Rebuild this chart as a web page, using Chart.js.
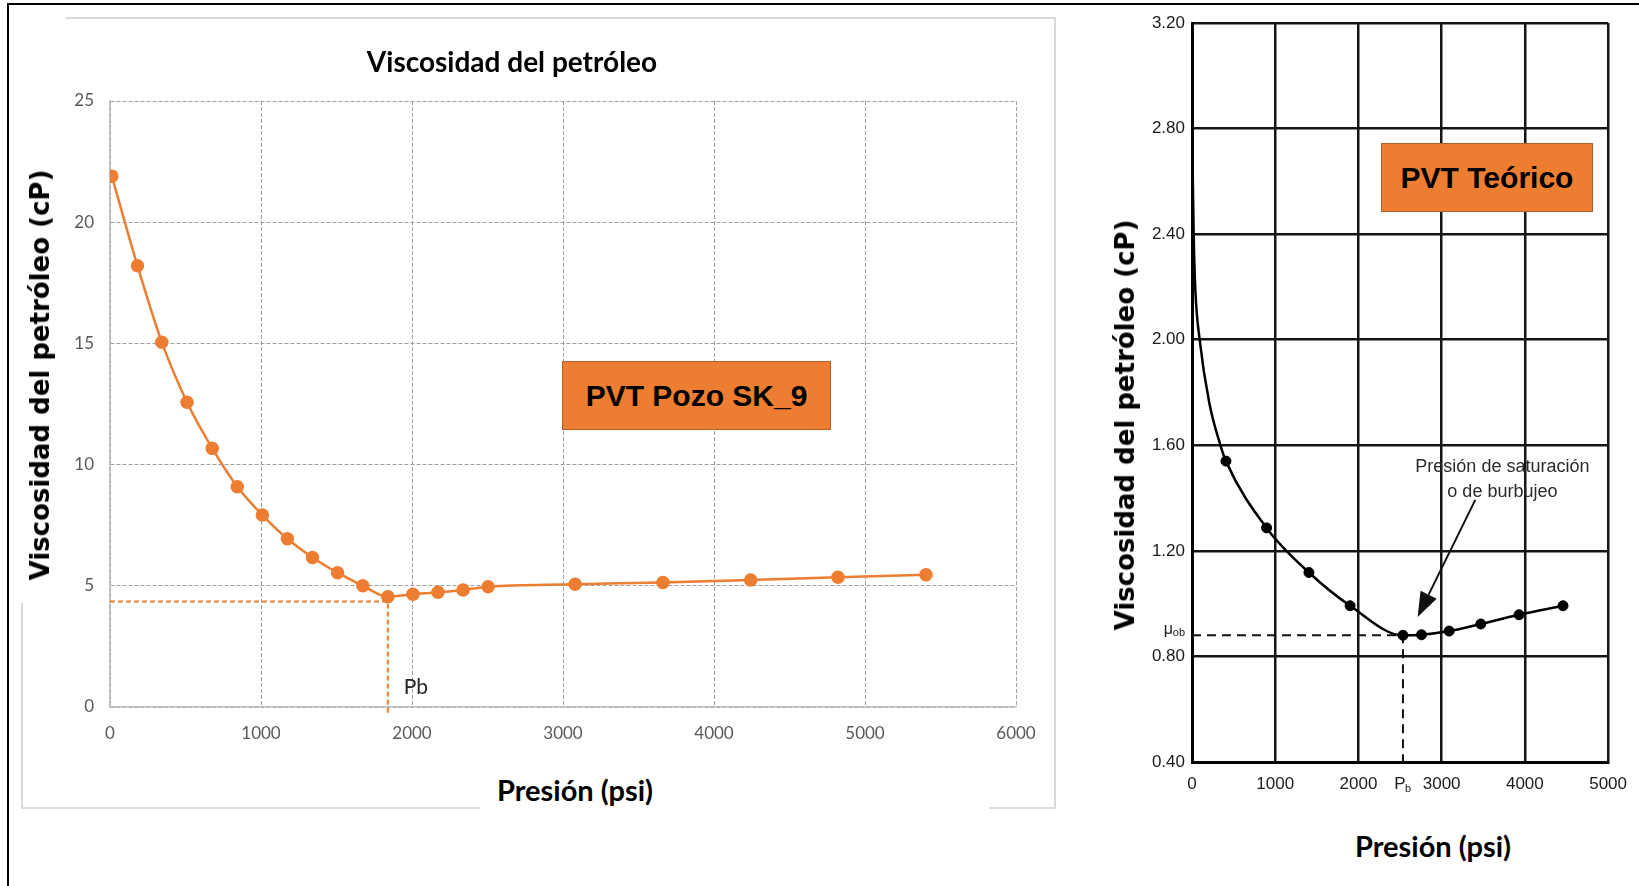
<!DOCTYPE html>
<html>
<head>
<meta charset="utf-8">
<script src="https://cdn.jsdelivr.net/npm/chart.js@4.4.1/dist/chart.umd.min.js"></script>
<style>
  html, body { margin: 0; padding: 0; background: #fff; }
  #lienzo { position: relative; width: 1639px; height: 886px; overflow: hidden; background: #fff; }
  .abs { position: absolute; }
  .gris { position: absolute; background: #D9D9D9; }
  .caja { position: absolute; box-sizing: border-box; background: #ED7D31; border: 1.5px solid #B5602A;
          display: flex; align-items: center; justify-content: center;
          font: bold 30px "Liberation Sans", Arial, sans-serif; color: #000; }
  .ytit { position: absolute; white-space: nowrap; font: bold 26px "DejaVu Sans", Verdana, sans-serif; color: #000;
          transform: translate(-50%, -50%) rotate(-90deg); }
  .xtit { position: absolute; white-space: nowrap; font: bold 29px Lato, "Open Sans", sans-serif; color: #000;
          transform: translate(-50%, -50%); }
</style>
</head>
<body>
<div id="lienzo">
  <!-- marco negro -->
  <div class="abs" style="left:7px;top:3px;width:1632px;height:2px;background:#000"></div>
  <div class="abs" style="left:7px;top:3px;width:2px;height:883px;background:#000"></div>

  <!-- marco gris del grafico de Excel -->
  <div class="gris" style="left:66px;top:17px;width:990px;height:1.5px"></div>
  <div class="gris" style="left:1054px;top:17px;width:1.5px;height:792px"></div>
  <div class="gris" style="left:21px;top:603px;width:1.5px;height:206px"></div>
  <div class="gris" style="left:21px;top:807px;width:459px;height:1.5px"></div>
  <div class="gris" style="left:989px;top:807px;width:67px;height:1.5px"></div>

  <div class="abs" style="left:0;top:0"><canvas id="izq" width="1060" height="760"></canvas></div>
  <div class="abs" style="left:1100px;top:0"><canvas id="der" width="539" height="800"></canvas></div>

  <div class="xtit" style="left:512px;top:61px;font-size:28px">Viscosidad del petróleo</div>
  <div class="ytit" style="left:40px;top:375px">Viscosidad del petróleo (cP)</div>
  <div class="ytit" style="left:1125px;top:425px">Viscosidad del petróleo (cP)</div>
  <div class="xtit" style="left:575px;top:789px">Presión (psi)</div>
  <div class="xtit" style="left:1433px;top:845px">Presión (psi)</div>

  <div class="caja" style="left:562px;top:361px;width:269px;height:69px">PVT Pozo SK_9</div>
  <div class="caja" style="left:1381px;top:143px;width:212px;height:69px">PVT Teórico</div>
</div>

<script>
// PVT del pozo SK_9 (psi, cP)
const presionPozo = [12, 182, 343, 510, 677, 843, 1009, 1175, 1341, 1507, 1674, 1840,
                     2006, 2172, 2338, 2504, 3080, 3662, 4243, 4821, 5404];
const viscPozo = [21.9, 18.2, 15.05, 12.57, 10.67, 9.09, 7.92, 6.94, 6.17, 5.54, 5.0, 4.55,
                  4.65, 4.73, 4.83, 4.96, 5.06, 5.14, 5.24, 5.35, 5.46];
const pbPozo = 1840;
const muPbPozo = 4.35;

// PVT teorico: tramo inicial de la curva (sin marcadores) y puntos medidos
const presionCurvaTeo = [5, 20, 40, 92, 208, 342];
const viscCurvaTeo = [2.71, 2.40, 2.19, 2.00, 1.76, 1.60];
const presionTeo = [408, 896, 1405, 1900, 2535, 2758, 3090, 3470, 3930, 4458];
const viscTeo = [1.54, 1.287, 1.118, 0.992, 0.88, 0.882, 0.896, 0.923, 0.958, 0.992];
const pbTeo = 2535;
const muObTeo = 0.88;

const naranja = '#ED7D31';
const xy = (xs, ys) => xs.map((x, i) => ({ x: x, y: ys[i] }));

const anotPozo = {
  id: 'anotPozo',
  afterDraw(chart) {
    const { ctx, scales: { x, y } } = chart;
    ctx.save();
    ctx.fillStyle = '#262626';
    ctx.font = '21px Lato, sans-serif';
    ctx.textAlign = 'left';
    ctx.textBaseline = 'middle';
    ctx.fillText('Pb', x.getPixelForValue(pbPozo + 105), y.getPixelForValue(0.8));
    ctx.restore();
  }
};

new Chart(document.getElementById('izq'), {
  type: 'scatter',
  data: {
    datasets: [{
      data: xy(presionPozo, viscPozo),
      showLine: true,
      borderColor: naranja,
      backgroundColor: naranja,
      borderWidth: 2.5,
      pointRadius: 5.5,
      pointHoverRadius: 5.5,
      cubicInterpolationMode: 'monotone'
    }, {
      data: [{ x: 0, y: muPbPozo }, { x: pbPozo, y: muPbPozo }, { x: pbPozo, y: -0.35 }],
      showLine: true,
      borderColor: naranja,
      borderWidth: 2,
      borderDash: [5, 3],
      pointRadius: 0,
      clip: false
    }]
  },
  options: {
    responsive: false,
    animation: false,
    devicePixelRatio: 1,
    layout: { padding: { left: 0, right: 44, top: 101, bottom: 0 } },
    plugins: { legend: { display: false }, tooltip: { enabled: false } },
    scales: {
      x: {
        type: 'linear', min: 0, max: 6000,
        ticks: { stepSize: 1000, padding: 16, color: '#595959', font: { family: 'Lato', size: 17 },
                 maxRotation: 0, autoSkip: false, callback: v => String(v) },
        grid: { color: '#A0A0A0', lineWidth: 1, drawTicks: false },
        border: { display: true, color: '#BFBFBF', width: 1.5, dash: [4, 2] },
        afterFit: s => { s.height = 53; }
      },
      y: {
        type: 'linear', min: 0, max: 25,
        ticks: { stepSize: 5, padding: 16, color: '#595959', font: { family: 'Lato', size: 17 },
                 callback: v => String(v) },
        grid: { color: '#A0A0A0', lineWidth: 1, drawTicks: false },
        border: { display: true, color: '#BFBFBF', width: 1.5, dash: [4, 2] },
        afterFit: s => { s.width = 110; }
      }
    }
  },
  plugins: [anotPozo]
});

const anotTeo = {
  id: 'anotTeo',
  afterDraw(chart) {
    const { ctx, scales: { x, y } } = chart;
    ctx.save();
    ctx.fillStyle = '#2a2a2a';
    ctx.font = '18px "Liberation Sans", Arial, sans-serif';
    ctx.textAlign = 'center';
    ctx.textBaseline = 'middle';
    ctx.fillText('Presión de saturación', x.getPixelForValue(3730), y.getPixelForValue(1.518));
    ctx.fillText('o de burbujeo', x.getPixelForValue(3730), y.getPixelForValue(1.424));

    // flecha hacia el punto de burbujeo
    const x0 = x.getPixelForValue(3404), y0 = y.getPixelForValue(1.393);
    const x1 = x.getPixelForValue(2711), y1 = y.getPixelForValue(0.949);
    const ang = Math.atan2(y1 - y0, x1 - x0);
    const largo = 25, ancho = 9;
    const bx = x1 - largo * Math.cos(ang), by = y1 - largo * Math.sin(ang);
    ctx.strokeStyle = '#111';
    ctx.lineWidth = 2;
    ctx.beginPath();
    ctx.moveTo(x0, y0);
    ctx.lineTo(bx, by);
    ctx.stroke();
    ctx.fillStyle = '#111';
    ctx.beginPath();
    ctx.moveTo(x1, y1);
    ctx.lineTo(bx + ancho * Math.sin(ang), by - ancho * Math.cos(ang));
    ctx.lineTo(bx - ancho * Math.sin(ang), by + ancho * Math.cos(ang));
    ctx.closePath();
    ctx.fill();

    // Pb bajo el eje
    const xb = x.getPixelForValue(pbTeo);
    const yb = y.bottom + 22;
    ctx.fillStyle = '#1a1a1a';
    ctx.textAlign = 'center';
    ctx.font = '17px "Liberation Sans", Arial, sans-serif';
    ctx.fillText('P', xb - 3, yb);
    ctx.font = '11px "Liberation Sans", Arial, sans-serif';
    ctx.fillText('b', xb + 5, yb + 5);

    // mu_ob a la izquierda del eje
    const ym = y.getPixelForValue(muObTeo) - 6;
    const xm = x.left - 7;
    ctx.textAlign = 'right';
    ctx.font = '11px "Liberation Sans", Arial, sans-serif';
    ctx.fillText('ob', xm, ym + 4);
    ctx.font = '16px "Liberation Sans", Arial, sans-serif';
    ctx.fillText('μ', xm - 12, ym);
    ctx.restore();
  }
};

new Chart(document.getElementById('der'), {
  type: 'scatter',
  data: {
    datasets: [{
      data: xy(presionTeo, viscTeo),
      showLine: false,
      borderColor: '#000',
      backgroundColor: '#000',
      pointRadius: 5,
      pointHoverRadius: 5
    }, {
      data: xy(presionCurvaTeo.concat(presionTeo), viscCurvaTeo.concat(viscTeo)),
      showLine: true,
      borderColor: '#000',
      borderWidth: 2.5,
      pointRadius: 0,
      cubicInterpolationMode: 'monotone'
    }, {
      data: [{ x: 0, y: muObTeo }, { x: pbTeo, y: muObTeo }, { x: pbTeo, y: 0.4 }],
      showLine: true,
      borderColor: '#111',
      borderWidth: 2,
      borderDash: [9, 6],
      pointRadius: 0
    }]
  },
  options: {
    responsive: false,
    animation: false,
    devicePixelRatio: 1,
    layout: { padding: { left: 0, right: 21, top: 23, bottom: 0 } },
    plugins: { legend: { display: false }, tooltip: { enabled: false } },
    scales: {
      x: {
        type: 'linear', min: 0, max: 5000,
        ticks: { stepSize: 1000, padding: 12, color: '#1a1a1a', font: { family: 'Liberation Sans', size: 17 },
                 maxRotation: 0, autoSkip: false, callback: v => String(v) },
        grid: { color: '#151515', lineWidth: 2.5, drawTicks: false },
        border: { display: true, color: '#000', width: 3 },
        afterFit: s => { s.height = 38; }
      },
      y: {
        type: 'linear', min: 0.4, max: 3.2,
        ticks: { stepSize: 0.4, padding: 7, color: '#1a1a1a', font: { family: 'Liberation Sans', size: 17 },
                 callback: v => v.toFixed(2) },
        grid: { color: '#151515', lineWidth: 2.5, drawTicks: false },
        border: { display: true, color: '#000', width: 3 },
        afterFit: s => { s.width = 92; }
      }
    }
  },
  plugins: [anotTeo]
});
</script>
</body>
</html>
